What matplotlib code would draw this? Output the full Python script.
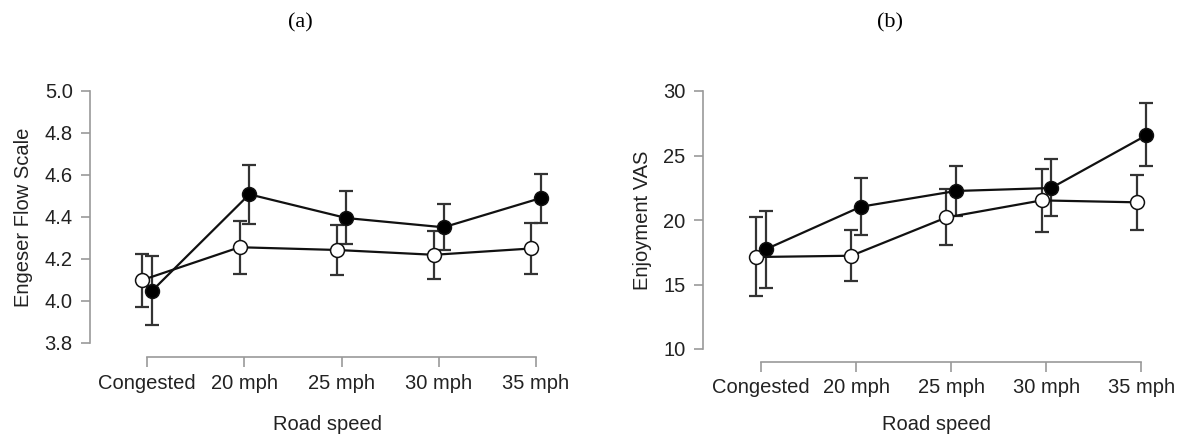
import numpy as np
import matplotlib
matplotlib.use("Agg")
import matplotlib.pyplot as plt

plt.rcParams['font.family'] = ['Liberation Sans', 'DejaVu Sans']

categories = ['Congested', '20 mph', '25 mph', '30 mph', '35 mph']

# (a) Engeser Flow Scale
flow_open = [4.10, 4.256, 4.243, 4.220, 4.250]
flow_open_lo = [3.973, 4.129, 4.125, 4.106, 4.128]
flow_open_hi = [4.226, 4.383, 4.364, 4.332, 4.373]
flow_filled = [4.049, 4.508, 4.395, 4.351, 4.490]
flow_filled_lo = [3.887, 4.368, 4.273, 4.243, 4.372]
flow_filled_hi = [4.212, 4.649, 4.522, 4.462, 4.607]

# (b) Enjoyment VAS
enj_open = [17.13, 17.23, 20.2, 21.52, 21.37]
enj_open_lo = [14.08, 15.27, 18.09, 19.1, 19.22]
enj_open_hi = [20.2, 19.22, 22.4, 23.98, 23.51]
enj_filled = [17.73, 21.03, 22.25, 22.48, 26.56]
enj_filled_lo = [14.73, 18.84, 20.3, 20.28, 24.16]
enj_filled_hi = [20.67, 23.28, 24.19, 24.73, 29.04]

fig = plt.figure(figsize=(11.81, 4.34), dpi=100)
W, H = 1181, 434


def panel(rect, ylim, yticks, ylabel, fmt, series, xlim, offset, xlabelpad):
    ax = fig.add_axes(rect)
    x = np.arange(len(categories))
    d = 0.05
    for vals, lo, hi, fc, sh in series:
        xs = x + sh * d
        yerr = [np.array(vals) - np.array(lo), np.array(hi) - np.array(vals)]
        ax.errorbar(xs, vals, yerr=yerr, fmt='none', ecolor='#333333',
                    elinewidth=1.6, capsize=5, capthick=1.6, zorder=2)
        ax.plot(xs, vals, '-', color='#111111', lw=1.6, zorder=3)
        ax.plot(xs, vals, 'o', ms=10, mfc=fc, mec='#111111', mew=1.1, zorder=4)
    ax.set_xlim(*xlim)
    ax.set_ylim(*ylim)
    ax.set_yticks(yticks)
    ax.set_yticklabels([fmt.format(v) for v in yticks])
    ax.set_xticks(x)
    ax.set_xticklabels(categories)
    for s in ['top', 'right']:
        ax.spines[s].set_visible(False)
    ax.spines['left'].set_bounds(ylim[0], ylim[1])
    ax.spines['bottom'].set_bounds(0, len(categories) - 1)
    ax.spines['bottom'].set_position(('outward', offset))
    for s in ['left', 'bottom']:
        ax.spines[s].set_color('#999999')
        ax.spines[s].set_linewidth(1.2)
    ax.tick_params(axis='y', length=6.5, width=1.2, color='#999999',
                   labelsize=14.5, pad=6, labelcolor='#222222')
    ax.tick_params(axis='x', length=7, width=1.2, color='#999999',
                   labelsize=14.5, pad=5, labelcolor='#222222')
    ax.set_xlabel('Road speed', fontsize=14.5, labelpad=xlabelpad, color='#222222')
    ax.set_ylabel(ylabel, fontsize=14.5, labelpad=8, color='#222222')
    ax.patch.set_alpha(0)
    return ax


def rect_px(x0, x1, ytop, ybot):
    return [x0 / W, 1 - ybot / H, (x1 - x0) / W, (ybot - ytop) / H]


axa = panel(rect_px(90, 565, 91, 343), (3.8, 5.0),
            [3.8, 4.0, 4.2, 4.4, 4.6, 4.8, 5.0], 'Engeser Flow Scale', '{:.1f}',
            [(flow_open, flow_open_lo, flow_open_hi, 'white', -1),
             (flow_filled, flow_filled_lo, flow_filled_hi, 'black', 1)],
            (-0.59, 4.3), 10, 16)

axb = panel(rect_px(703, 1170, 91, 349), (10, 30),
            [10, 15, 20, 25, 30], 'Enjoyment VAS', '{:.0f}',
            [(enj_open, enj_open_lo, enj_open_hi, 'white', -1),
             (enj_filled, enj_filled_lo, enj_filled_hi, 'black', 1)],
            (-0.61, 4.3), 9, 13)

fig.text(300 / W, 1 - 23 / H, '(a)', ha='center', va='center',
         fontsize=16, family='Liberation Serif')
fig.text(890 / W, 1 - 23 / H, '(b)', ha='center', va='center',
         fontsize=16, family='Liberation Serif')

fig.savefig('out.png', dpi=100)
